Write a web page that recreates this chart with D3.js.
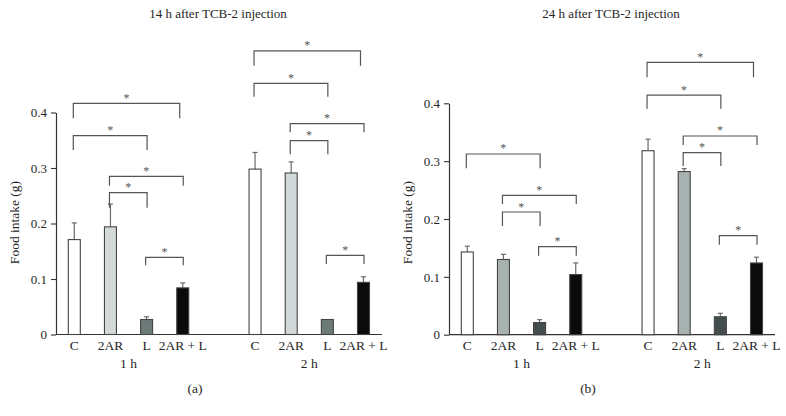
<!DOCTYPE html>
<html>
<head>
<meta charset="utf-8">
<script src="https://cdn.jsdelivr.net/npm/d3@7/dist/d3.min.js"></script>
<style>
  html, body { margin: 0; padding: 0; background: #fff; }
  svg { display: block; }
  text { font-family: "Liberation Serif", "DejaVu Serif", serif; }
</style>
</head>
<body>
<svg id="chart" width="786" height="416"></svg>
<script>
// ---------- data ----------
const categories = ["C", "2AR", "L", "2AR + L"];
const groups = ["1 h", "2 h"];
const titles = ["14 h after TCB-2 injection", "24 h after TCB-2 injection"];
const panelLabels = ["(a)", "(b)"];
const yTicks = [0, 0.1, 0.2, 0.3, 0.4];
const yTickLabels = ["0", "0.1", "0.2", "0.3", "0.4"];
const yLabel = "Food intake (g)";

// panel (a): 14 h
const meanA1h = [0.171, 0.194, 0.027, 0.084];
const errA1h  = [0.030, 0.041, 0.005, 0.009];
const meanA2h = [0.298, 0.291, 0.027, 0.094];
const errA2h  = [0.030, 0.020, 0.000, 0.010];
// panel (b): 24 h
const meanB1h = [0.143, 0.130, 0.021, 0.104];
const errB1h  = [0.010, 0.009, 0.005, 0.020];
const meanB2h = [0.318, 0.282, 0.031, 0.124];
const errB2h  = [0.020, 0.005, 0.006, 0.010];

// significance brackets: [group, from category, to category, bracket level, leg end level]
const bracketsA = [
  [0, 0, 3, 0.4166, 0.3895],
  [0, 0, 2, 0.3582, 0.3324],
  [0, 1, 3, 0.2850, 0.2680],
  [0, 1, 2, 0.2555, 0.2285],
  [0, 2, 3, 0.1390, 0.1247],
  [1, 0, 3, 0.5110, 0.4843],
  [1, 0, 2, 0.4526, 0.4285],
  [1, 1, 3, 0.3798, 0.3643],
  [1, 1, 2, 0.3492, 0.3247],
  [1, 2, 3, 0.1427, 0.1270]
];
const bracketsB = [
  [0, 0, 2, 0.3124, 0.2876],
  [0, 1, 3, 0.2410, 0.2259],
  [0, 1, 2, 0.2121, 0.1877],
  [0, 2, 3, 0.1521, 0.1366],
  [1, 0, 3, 0.4709, 0.4450],
  [1, 0, 2, 0.4143, 0.3907],
  [1, 1, 3, 0.3435, 0.3280],
  [1, 1, 2, 0.3146, 0.2916],
  [1, 2, 3, 0.1711, 0.1556]
];

const colorsA = ["#ffffff", "#d3d9d9", "#6c7a78", "#0b0b0b"];
const colorsB = ["#ffffff", "#a7b2b0", "#434d4e", "#0b0b0b"];

// ---------- drawing ----------
const svg = d3.select("#chart");
svg.append("rect").attr("width", 786).attr("height", 416).attr("fill", "#fff");

const panels = [
  { ox: 0, y0: 334.5, y4: 112.5, means: [meanA1h, meanA2h], errs: [errA1h, errA2h], brackets: bracketsA, colors: colorsA },
  { ox: 393, y0: 334.7, y4: 103.3, means: [meanB1h, meanB2h], errs: [errB1h, errB2h], brackets: bracketsB, colors: colorsB }
];

const textColor = "#262626";

panels.forEach((p, pi) => {
  const g = svg.append("g").attr("transform", `translate(${p.ox},0)`);
  const y = d3.scaleLinear().domain([0, 0.4]).range([p.y0, p.y4]);
  // slot positions: 4 bars, empty slot, 4 bars
  const slots = d3.range(9);
  const x = d3.scalePoint().domain(slots).range([74.3, 363.5]);
  const slotOf = (gi, ci) => gi * 5 + ci;
  const barW = 12;

  // title
  g.append("text").attr("x", 218).attr("y", 17.5).attr("text-anchor", "middle")
    .style("font-size", "13px").style("fill", textColor).text(titles[pi]);

  // y axis
  const yAxis = d3.axisLeft(y).tickValues(yTicks).tickFormat((d, i) => yTickLabels[i]).tickSize(5).tickSizeOuter(0);
  const ya = g.append("g").attr("transform", "translate(56,0)").call(yAxis);
  ya.select(".domain").attr("stroke", "#333").attr("stroke-width", 1.2);
  ya.selectAll(".tick line").attr("stroke", "#333").attr("stroke-width", 1.1);
  ya.selectAll(".tick text").attr("x", -9).style("font-size", "13px")
    .style("font-family", '"Liberation Serif", "DejaVu Serif", serif').style("fill", textColor);

  // y label
  g.append("text").attr("transform", `translate(19,${222.5}) rotate(-90)`)
    .attr("text-anchor", "middle").style("font-size", "13.5px").style("fill", textColor).text(yLabel);

  // x axis line
  g.append("line").attr("x1", 56).attr("x2", 382).attr("y1", y(0)).attr("y2", y(0))
    .attr("stroke", "#333").attr("stroke-width", 1.2);

  // bars
  groups.forEach((gname, gi) => {
    categories.forEach((cat, ci) => {
      const cx = x(slotOf(gi, ci));
      const v = p.means[gi][ci];
      const e = p.errs[gi][ci];
      // error bar
      if (e > 0) {
        g.append("line").attr("x1", cx).attr("x2", cx).attr("y1", y(v)).attr("y2", y(v + e))
          .attr("stroke", "#6a6a6a").attr("stroke-width", 1.2);
        g.append("line").attr("x1", cx - 2.5).attr("x2", cx + 2.5).attr("y1", y(v + e)).attr("y2", y(v + e))
          .attr("stroke", "#6a6a6a").attr("stroke-width", 1.2);
      }
      g.append("rect").attr("x", cx - barW / 2).attr("width", barW)
        .attr("y", y(v)).attr("height", y(0) - y(v))
        .attr("fill", p.colors[ci]).attr("stroke", "#444").attr("stroke-width", 1.1);
      // category label
      g.append("text").attr("x", cx).attr("y", 349.5).attr("text-anchor", "middle")
        .style("font-size", "13.5px").style("fill", textColor).text(cat);
    });
    const gx = (x(slotOf(gi, 0)) + x(slotOf(gi, 3))) / 2;
    g.append("text").attr("x", gx).attr("y", 367.5).attr("text-anchor", "middle")
      .style("font-size", "13.5px").style("fill", textColor).text(gname);
  });

  // panel label
  g.append("text").attr("x", 195).attr("y", 393).attr("text-anchor", "middle")
    .style("font-size", "13.5px").style("fill", textColor).text(panelLabels[pi]);

  // brackets
  p.brackets.forEach(b => {
    const [gi, i, j, top, leg] = b;
    const x1 = x(slotOf(gi, i)) - 1;
    const x2 = x(slotOf(gi, j)) + (i === 0 && j === 3 ? -3 : 0.5);
    g.append("path")
      .attr("d", `M${x1},${y(leg)}V${y(top)}H${x2}V${y(leg)}`)
      .attr("fill", "none").attr("stroke", "#555").attr("stroke-width", 1.2);
    g.append("text").attr("x", (x1 + x2) / 2).attr("y", y(top) - 1.5)
      .attr("text-anchor", "middle").style("font-size", "12px").style("fill", "#555").text("*");
  });
});
</script>
</body>
</html>
